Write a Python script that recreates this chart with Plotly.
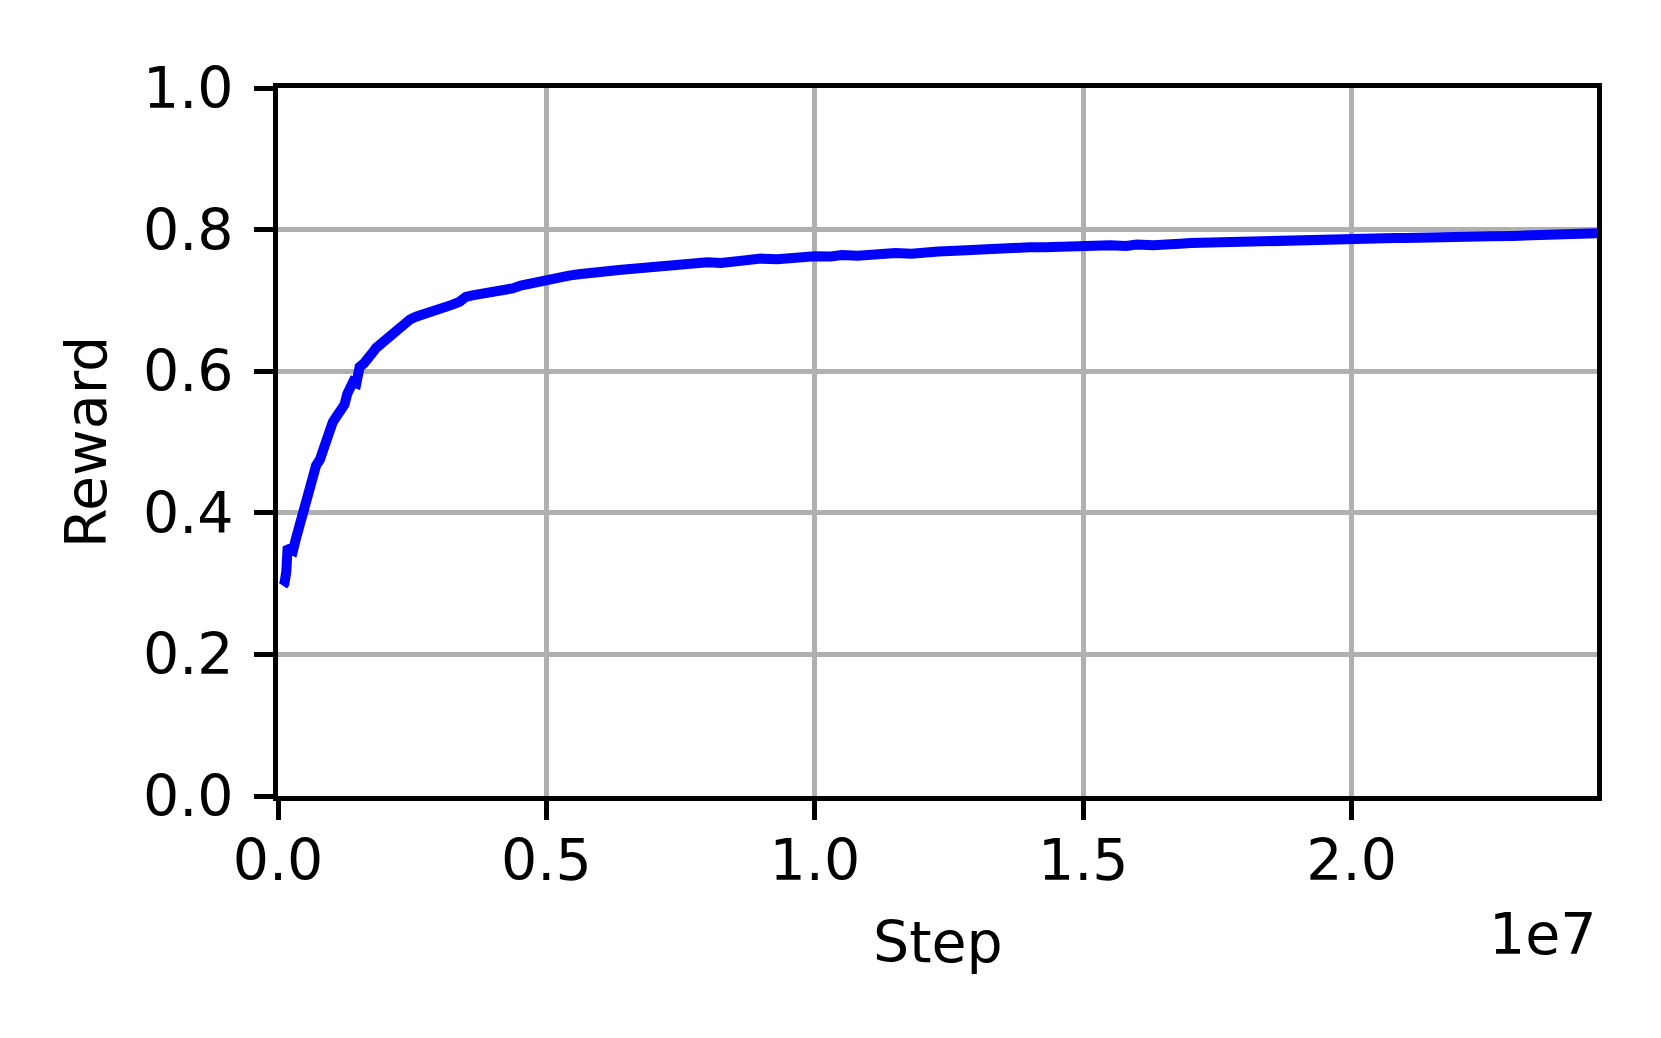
import plotly.graph_objects as go

# training curve (step in units of 1e7, mean reward)
step_1e7 = [
    0.0093, 0.0120, 0.0155, 0.0180, 0.0230, 0.0280, 0.0340, 0.0400, 0.0470, 0.0500,
    0.0550, 0.0590, 0.0650, 0.0710, 0.0780, 0.0840, 0.0900, 0.0960, 0.1020, 0.1080,
    0.1160, 0.1240, 0.1290, 0.1330, 0.1400, 0.1460, 0.1520, 0.1600, 0.1670, 0.1750,
    0.1830, 0.1920, 0.2010, 0.2100, 0.2200, 0.2280, 0.2350, 0.2460, 0.2570, 0.2700,
    0.2880, 0.3000, 0.3130, 0.3250, 0.3380, 0.3500, 0.3620, 0.3800, 0.3900, 0.4000,
    0.4180, 0.4370, 0.4520, 0.4680, 0.4850, 0.5000, 0.5200, 0.5420, 0.5600, 0.5730,
    0.6000, 0.6350, 0.6650, 0.6970, 0.7250, 0.7500, 0.7800, 0.8000, 0.8250, 0.8500,
    0.8800, 0.9000, 0.9300, 0.9500, 0.9800, 1.0000, 1.0300, 1.0500, 1.0800, 1.1000,
    1.1300, 1.1500, 1.1800, 1.2000, 1.2300, 1.2620, 1.3000, 1.3300, 1.3500, 1.3800,
    1.4000, 1.4300, 1.4500, 1.4930, 1.5200, 1.5500, 1.5800, 1.6000, 1.6300, 1.6500,
    1.6800, 1.7000, 1.7380, 1.7700, 1.8000, 1.8300, 1.8500, 1.8800, 1.9000, 1.9300,
    1.9500, 1.9800, 2.0000, 2.0300, 2.0500, 2.0800, 2.1000, 2.1300, 2.1500, 2.1800,
    2.2000, 2.2300, 2.2600, 2.3000, 2.3300, 2.3500, 2.3800, 2.4000, 2.4300, 2.4570,
]
reward = [
    0.297, 0.300, 0.317, 0.352, 0.349, 0.347, 0.365, 0.382, 0.395, 0.412,
    0.420, 0.442, 0.450, 0.467, 0.475, 0.490, 0.500, 0.518, 0.528, 0.535,
    0.542, 0.553, 0.568, 0.578, 0.585, 0.583, 0.606, 0.611, 0.616, 0.625,
    0.633, 0.639, 0.646, 0.651, 0.658, 0.664, 0.668, 0.673, 0.677, 0.680,
    0.684, 0.688, 0.688, 0.694, 0.698, 0.705, 0.707, 0.709, 0.712, 0.711,
    0.714, 0.717, 0.721, 0.724, 0.727, 0.729, 0.731, 0.735, 0.737, 0.739,
    0.740, 0.743, 0.745, 0.748, 0.749, 0.751, 0.752, 0.754, 0.753, 0.756,
    0.757, 0.759, 0.758, 0.760, 0.761, 0.7625, 0.762, 0.764, 0.763, 0.765,
    0.766, 0.767, 0.766, 0.768, 0.769, 0.770, 0.772, 0.771, 0.773, 0.774,
    0.775, 0.775, 0.776, 0.777, 0.778, 0.778, 0.777, 0.779, 0.778, 0.780,
    0.780, 0.781, 0.782, 0.782, 0.783, 0.784, 0.784, 0.785, 0.785, 0.786,
    0.786, 0.785, 0.786, 0.787, 0.787, 0.788, 0.788, 0.789, 0.789, 0.790,
    0.790, 0.790, 0.7906, 0.791, 0.792, 0.792, 0.793, 0.793, 0.794, 0.795,
]

x_tickvals = [0.0, 0.5e7, 1.0e7, 1.5e7, 2.0e7]
x_ticktext = ["0.0", "0.5", "1.0", "1.5", "2.0"]
y_tickvals = [0.0, 0.2, 0.4, 0.6, 0.8, 1.0]
y_ticktext = ["0.0", "0.2", "0.4", "0.6", "0.8", "1.0"]
x_max = 2.457e7

steps = [s * 1e7 for s in step_1e7]

font_family = "DejaVu Sans"
font_size = 57

fig = go.Figure()

fig.add_trace(go.Scatter(
    x=steps,
    y=reward,
    mode="lines",
    line=dict(color="#0000ff", width=10),
    showlegend=False,
))

axis_common = dict(
    showline=True,
    linecolor="black",
    linewidth=5,
    mirror=True,
    ticks="outside",
    ticklen=19,
    tickwidth=5,
    tickcolor="black",
    showgrid=True,
    gridcolor="#b0b0b0",
    gridwidth=4.5,
    zeroline=False,
    tickfont=dict(family=font_family, size=font_size, color="black"),
)

# the page body adds a small offset, so margins are trimmed to compensate
fig.update_layout(
    width=1653,
    height=1030,
    margin=dict(l=270, r=64, t=80, b=242),
    plot_bgcolor="white",
    paper_bgcolor="white",
    xaxis=dict(
        range=[0, x_max],
        tickmode="array",
        tickvals=x_tickvals,
        ticktext=x_ticktext,
        ticklabelstandoff=-8,
        **axis_common,
    ),
    yaxis=dict(
        range=[0, 1.0],
        tickmode="array",
        tickvals=y_tickvals,
        ticktext=y_ticktext,
        ticklabelstandoff=9,
        **axis_common,
    ),
)

# axis titles and offset text placed like matplotlib
fig.add_annotation(
    text="Step", xref="paper", yref="paper", x=0.5, y=0,
    xanchor="center", yanchor="middle", yshift=-146, showarrow=False,
    font=dict(family=font_family, size=font_size, color="black"),
)
fig.add_annotation(
    text="Reward", xref="paper", yref="paper", x=0, y=0.5, textangle=-90,
    xanchor="center", yanchor="middle", xshift=-192, showarrow=False,
    font=dict(family=font_family, size=font_size, color="black"),
)
fig.add_annotation(
    text="1e7", xref="paper", yref="paper", x=1, y=0,
    xanchor="right", yanchor="middle", yshift=-138, xshift=2, showarrow=False,
    font=dict(family=font_family, size=font_size, color="black"),
)

fig.write_html("out.html")
